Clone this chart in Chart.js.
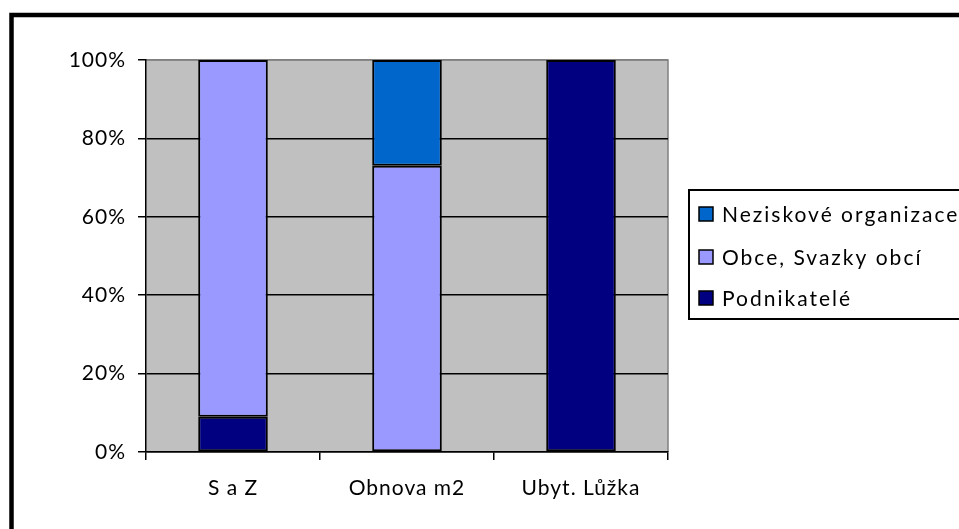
<!DOCTYPE html>
<html><head><meta charset="utf-8">
<script src="https://cdn.jsdelivr.net/npm/chart.js@4"></script>
<style>html,body{margin:0;padding:0;background:#fff;overflow:hidden}#wrap{width:959px;height:529px;position:relative}canvas{display:block}</style>
</head><body><div id="wrap"><canvas id="c" width="959" height="529"></canvas></div>
<script>
// ---- data ----
const categories = ['S a Z', 'Obnova m2', 'Ubyt. Lůžka'];
const seriesNames = ['Podnikatelé', 'Obce, Svazky obcí', 'Neziskové organizace'];
const podnikatele = [9, null, 100];
const obce = [91, 73, null];
const neziskove = [null, 27, null];
const yTicks = [0, 20, 40, 60, 80, 100];

const seriesColors = ['#000080', '#9999FF', '#0066CC'];

Chart.defaults.color = '#000';
Chart.defaults.font.family = 'Lato, "Noto Sans", sans-serif';

const L = {left: 146, top: 60, right: 668, bottom: 452};
const LEG = {boxLeft: 689, boxTop: 190, boxBottom: 319, sqX: 699, sq: 14, textX: 722, rows: [214, 257, 298], font: 21};

const framePlugin = {
  id: 'frame',
  beforeDraw(chart) {
    const ctx = chart.ctx;
    const ca = chart.chartArea;
    ctx.save();
    ctx.fillStyle = '#fff';
    ctx.fillRect(0, 0, chart.width, chart.height);
    ctx.strokeStyle = '#000';
    ctx.lineWidth = 4.5;
    ctx.strokeRect(11.5, 15, 980, 560);
    ctx.fillStyle = '#C0C0C0';
    ctx.fillRect(ca.left, ca.top, ca.right - ca.left, ca.bottom - ca.top);
    ctx.strokeStyle = '#808080';
    ctx.lineWidth = 1.5;
    ctx.beginPath();
    ctx.moveTo(ca.left, ca.top);
    ctx.lineTo(ca.right, ca.top);
    ctx.lineTo(ca.right, ca.bottom);
    ctx.stroke();
    ctx.restore();
    ctx.letterSpacing = '1px';
  },
  afterDraw(chart) {
    const ctx = chart.ctx;
    ctx.save();
    ctx.letterSpacing = '2px';
    ctx.strokeStyle = '#000';
    ctx.lineWidth = 2;
    ctx.strokeRect(LEG.boxLeft, LEG.boxTop, 300, LEG.boxBottom - LEG.boxTop);
    const ds = chart.data.datasets.slice().reverse();
    ctx.font = LEG.font + 'px Lato, "Noto Sans", sans-serif';
    ctx.textBaseline = 'middle';
    ctx.textAlign = 'left';
    ds.forEach((d, i) => {
      const cy = LEG.rows[i];
      ctx.fillStyle = d.backgroundColor;
      ctx.fillRect(LEG.sqX, cy - LEG.sq / 2, LEG.sq, LEG.sq);
      ctx.lineWidth = 1.5;
      ctx.strokeStyle = '#000';
      ctx.strokeRect(LEG.sqX, cy - LEG.sq / 2, LEG.sq, LEG.sq);
      ctx.fillStyle = '#000';
      ctx.fillText(d.label, LEG.textX, cy + 1);
    });
    ctx.restore();
  }
};

const chart = new Chart(document.getElementById('c'), {
  type: 'bar',
  data: {
    labels: categories,
    datasets: [
      {label: seriesNames[0], data: podnikatele, backgroundColor: seriesColors[0]},
      {label: seriesNames[1], data: obce, backgroundColor: seriesColors[1]},
      {label: seriesNames[2], data: neziskove, backgroundColor: seriesColors[2]}
    ].map(d => Object.assign(d, {borderColor: '#000', borderWidth: 2, borderSkipped: false,
      barPercentage: 0.4, categoryPercentage: 1}))
  },
  options: {
    responsive: false,
    animation: false,
    devicePixelRatio: 1,
    layout: {padding: {left: 0, top: L.top, right: 959 - L.right, bottom: 0}},
    plugins: {
      legend: {display: false},
      tooltip: {enabled: false},
      title: {display: false}
    },
    scales: {
      x: {
        stacked: true,
        offset: true,
        afterFit: s => { s.height = 529 - L.bottom; },
        grid: {offset: true, drawOnChartArea: false, drawTicks: true, tickLength: 8, color: '#000', lineWidth: 1.5},
        border: {display: true, color: '#000', width: 1.5},
        ticks: {font: {size: 21}, padding: 16, color: '#000', maxRotation: 0}
      },
      y: {
        stacked: true,
        min: 0, max: 100,
        afterFit: s => { s.width = L.left; },
        afterBuildTicks: s => { s.ticks = yTicks.map(v => ({value: v})); },
        grid: {
          color: c => (c.tick && c.tick.value === 100) ? '#808080' : '#000',
          tickColor: '#000',
          lineWidth: 1.5, tickLength: 8, drawTicks: true
        },
        border: {display: true, color: '#000', width: 1.5},
        ticks: {font: {size: 21}, padding: 12, color: '#000', callback: v => v + '%'}
      }
    }
  },
  plugins: [framePlugin]
});
</script>
</body></html>
